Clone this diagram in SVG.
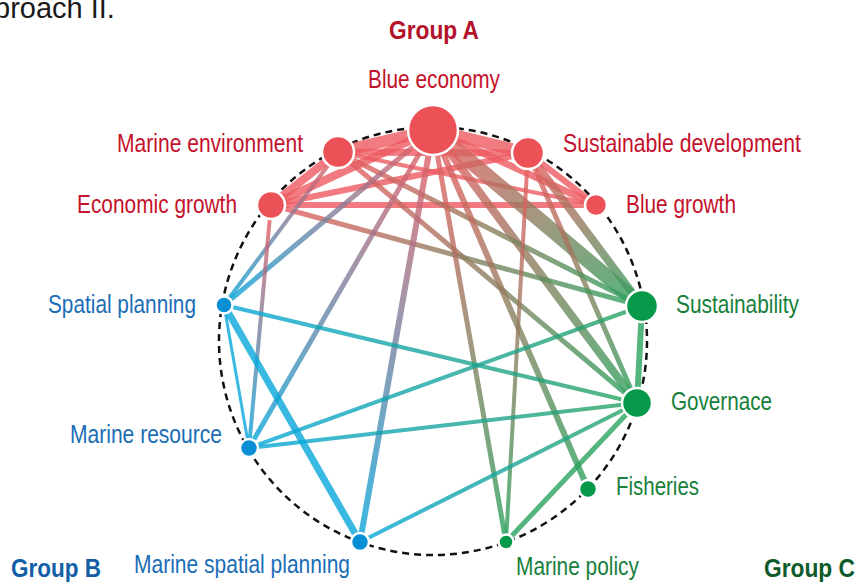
<svg xmlns="http://www.w3.org/2000/svg" width="857" height="582" viewBox="0 0 857 582">
<style>
.lbl{font-family:"Liberation Sans",Arial,sans-serif;font-size:25px}
.grp{font-family:"Liberation Sans",Arial,sans-serif;font-size:26.5px;font-weight:bold}
.ra{fill:#c4122c}.bl{fill:#1a6db6}.gr{fill:#17803b}
.edges line{stroke-opacity:0.8;stroke-linecap:butt}
.red{stroke:#ee5a60}
.node circle{stroke:#fff;stroke-width:2.5}
.nr{fill:#ec5157}.nb{fill:#0a8fd4}.ng{fill:#07994a}
</style>
<defs>
<linearGradient id="g1" gradientUnits="userSpaceOnUse" x1="433" y1="130" x2="642" y2="306"><stop offset="0" stop-color="#ee5a60"/><stop offset="1" stop-color="#2aa25e"/></linearGradient>
<linearGradient id="g2" gradientUnits="userSpaceOnUse" x1="528" y1="153" x2="642" y2="306"><stop offset="0" stop-color="#ee5a60"/><stop offset="1" stop-color="#2aa25e"/></linearGradient>
<linearGradient id="g3" gradientUnits="userSpaceOnUse" x1="433" y1="130" x2="637" y2="403"><stop offset="0" stop-color="#ee5a60"/><stop offset="1" stop-color="#2aa25e"/></linearGradient>
<linearGradient id="g4" gradientUnits="userSpaceOnUse" x1="528" y1="153" x2="637" y2="403"><stop offset="0" stop-color="#ee5a60"/><stop offset="1" stop-color="#2aa25e"/></linearGradient>
<linearGradient id="g5" gradientUnits="userSpaceOnUse" x1="338" y1="152" x2="637" y2="403"><stop offset="0" stop-color="#ee5a60"/><stop offset="1" stop-color="#2aa25e"/></linearGradient>
<linearGradient id="g6" gradientUnits="userSpaceOnUse" x1="338" y1="152" x2="642" y2="306"><stop offset="0" stop-color="#ee5a60"/><stop offset="1" stop-color="#2aa25e"/></linearGradient>
<linearGradient id="g7" gradientUnits="userSpaceOnUse" x1="271" y1="205" x2="642" y2="306"><stop offset="0" stop-color="#ee5a60"/><stop offset="1" stop-color="#2aa25e"/></linearGradient>
<linearGradient id="g8" gradientUnits="userSpaceOnUse" x1="433" y1="130" x2="588" y2="489"><stop offset="0" stop-color="#ee5a60"/><stop offset="1" stop-color="#2aa25e"/></linearGradient>
<linearGradient id="g9" gradientUnits="userSpaceOnUse" x1="433" y1="130" x2="506" y2="542"><stop offset="0" stop-color="#ee5a60"/><stop offset="1" stop-color="#2aa25e"/></linearGradient>
<linearGradient id="g10" gradientUnits="userSpaceOnUse" x1="528" y1="153" x2="506" y2="542"><stop offset="0" stop-color="#ee5a60"/><stop offset="1" stop-color="#2aa25e"/></linearGradient>
<linearGradient id="g11" gradientUnits="userSpaceOnUse" x1="433" y1="130" x2="360" y2="542"><stop offset="0" stop-color="#ee5a60"/><stop offset="1" stop-color="#07a7db"/></linearGradient>
<linearGradient id="g12" gradientUnits="userSpaceOnUse" x1="433" y1="130" x2="249" y2="448"><stop offset="0" stop-color="#ee5a60"/><stop offset="1" stop-color="#07a7db"/></linearGradient>
<linearGradient id="g13" gradientUnits="userSpaceOnUse" x1="433" y1="130" x2="224" y2="305"><stop offset="0" stop-color="#ee5a60"/><stop offset="1" stop-color="#07a7db"/></linearGradient>
<linearGradient id="g14" gradientUnits="userSpaceOnUse" x1="338" y1="152" x2="224" y2="305"><stop offset="0" stop-color="#ee5a60"/><stop offset="1" stop-color="#07a7db"/></linearGradient>
<linearGradient id="g15" gradientUnits="userSpaceOnUse" x1="271" y1="205" x2="249" y2="448"><stop offset="0" stop-color="#ee5a60"/><stop offset="1" stop-color="#07a7db"/></linearGradient>
<linearGradient id="g16" gradientUnits="userSpaceOnUse" x1="224" y1="305" x2="637" y2="403"><stop offset="0" stop-color="#07a7db"/><stop offset="1" stop-color="#2aa25e"/></linearGradient>
<linearGradient id="g17" gradientUnits="userSpaceOnUse" x1="249" y1="448" x2="642" y2="306"><stop offset="0" stop-color="#07a7db"/><stop offset="1" stop-color="#2aa25e"/></linearGradient>
<linearGradient id="g18" gradientUnits="userSpaceOnUse" x1="249" y1="448" x2="637" y2="403"><stop offset="0" stop-color="#07a7db"/><stop offset="1" stop-color="#2aa25e"/></linearGradient>
<linearGradient id="g19" gradientUnits="userSpaceOnUse" x1="360" y1="542" x2="637" y2="403"><stop offset="0" stop-color="#07a7db"/><stop offset="1" stop-color="#2aa25e"/></linearGradient>
</defs>
<rect width="857" height="582" fill="#fff"/>
<text x="-6" y="17.5" font-family="Liberation Sans,Arial,sans-serif" font-size="29" fill="#1a1a1a">proach II.</text>
<circle cx="433" cy="341" r="214" fill="none" stroke="#111" stroke-width="2.5" stroke-dasharray="7 5"/>
<g id="connectors" class="edges">
<line class="red" x1="433" y1="130" x2="338" y2="152" stroke-width="12"/>
<line class="red" x1="433" y1="130" x2="528" y2="153" stroke-width="12"/>
<line class="red" x1="338" y1="152" x2="528" y2="153" stroke-width="7"/>
<line class="red" x1="433" y1="130" x2="271" y2="205" stroke-width="8"/>
<line class="red" x1="433" y1="130" x2="596" y2="205" stroke-width="7"/>
<line class="red" x1="338" y1="152" x2="271" y2="205" stroke-width="8"/>
<line class="red" x1="271" y1="205" x2="528" y2="153" stroke-width="6"/>
<line class="red" x1="271" y1="205" x2="596" y2="205" stroke-width="6"/>
<line class="red" x1="528" y1="153" x2="596" y2="205" stroke-width="6"/>
<line class="red" x1="338" y1="152" x2="596" y2="205" stroke-width="4"/>
<line x1="433" y1="130" x2="642" y2="306" stroke="url(#g1)" stroke-width="15"/>
<line x1="528" y1="153" x2="642" y2="306" stroke="url(#g2)" stroke-width="8"/>
<line x1="433" y1="130" x2="637" y2="403" stroke="url(#g3)" stroke-width="8"/>
<line x1="528" y1="153" x2="637" y2="403" stroke="url(#g4)" stroke-width="5"/>
<line x1="338" y1="152" x2="637" y2="403" stroke="url(#g5)" stroke-width="5"/>
<line x1="338" y1="152" x2="642" y2="306" stroke="url(#g6)" stroke-width="5"/>
<line x1="271" y1="205" x2="642" y2="306" stroke="url(#g7)" stroke-width="5"/>
<line x1="433" y1="130" x2="588" y2="489" stroke="url(#g8)" stroke-width="6"/>
<line x1="433" y1="130" x2="506" y2="542" stroke="url(#g9)" stroke-width="5"/>
<line x1="528" y1="153" x2="506" y2="542" stroke="url(#g10)" stroke-width="4"/>
<line x1="433" y1="130" x2="360" y2="542" stroke="url(#g11)" stroke-width="6"/>
<line x1="433" y1="130" x2="249" y2="448" stroke="url(#g12)" stroke-width="5"/>
<line x1="433" y1="130" x2="224" y2="305" stroke="url(#g13)" stroke-width="5"/>
<line x1="338" y1="152" x2="224" y2="305" stroke="url(#g14)" stroke-width="4"/>
<line x1="271" y1="205" x2="249" y2="448" stroke="url(#g15)" stroke-width="4"/>
<line x1="224" y1="305" x2="637" y2="403" stroke="url(#g16)" stroke-width="4"/>
<line x1="249" y1="448" x2="642" y2="306" stroke="url(#g17)" stroke-width="4"/>
<line x1="249" y1="448" x2="637" y2="403" stroke="url(#g18)" stroke-width="4"/>
<line x1="360" y1="542" x2="637" y2="403" stroke="url(#g19)" stroke-width="4"/>
<line x1="642" y1="306" x2="637" y2="403" stroke="#2aa25e" stroke-width="6"/>
<line x1="506" y1="542" x2="637" y2="403" stroke="#2aa25e" stroke-width="5"/>
<line x1="224" y1="305" x2="360" y2="542" stroke="#07a7db" stroke-width="7"/>
<line x1="224" y1="305" x2="249" y2="448" stroke="#07a7db" stroke-width="3"/>
</g>
<g id="node-blue-economy" class="node"><circle class="nr" cx="433" cy="130" r="25"/><text class="lbl ra" x="368" y="88" textLength="132" lengthAdjust="spacingAndGlyphs">Blue economy</text></g>
<g id="node-marine-environment" class="node"><circle class="nr" cx="338" cy="152" r="16"/><text class="lbl ra" x="117" y="152" textLength="186" lengthAdjust="spacingAndGlyphs">Marine environment</text></g>
<g id="node-sustainable-development" class="node"><circle class="nr" cx="528" cy="153" r="16"/><text class="lbl ra" x="563" y="152" textLength="238" lengthAdjust="spacingAndGlyphs">Sustainable development</text></g>
<g id="node-economic-growth" class="node"><circle class="nr" cx="271" cy="205" r="14"/><text class="lbl ra" x="77" y="213" textLength="160" lengthAdjust="spacingAndGlyphs">Economic growth</text></g>
<g id="node-blue-growth" class="node"><circle class="nr" cx="596" cy="205" r="11"/><text class="lbl ra" x="626" y="213" textLength="110" lengthAdjust="spacingAndGlyphs">Blue growth</text></g>
<g id="node-sustainability" class="node"><circle class="ng" cx="642" cy="306" r="16"/><text class="lbl gr" x="676" y="313" textLength="123" lengthAdjust="spacingAndGlyphs">Sustainability</text></g>
<g id="node-governace" class="node"><circle class="ng" cx="637" cy="403" r="15"/><text class="lbl gr" x="671" y="410" textLength="101" lengthAdjust="spacingAndGlyphs">Governace</text></g>
<g id="node-fisheries" class="node"><circle class="ng" cx="588" cy="489" r="9"/><text class="lbl gr" x="616" y="495" textLength="83" lengthAdjust="spacingAndGlyphs">Fisheries</text></g>
<g id="node-marine-policy" class="node"><circle class="ng" cx="506" cy="542" r="7.5"/><text class="lbl gr" x="516" y="575" textLength="123" lengthAdjust="spacingAndGlyphs">Marine policy</text></g>
<g id="node-marine-spatial-planning" class="node"><circle class="nb" cx="360" cy="542" r="9"/><text class="lbl bl" x="134" y="573" textLength="216" lengthAdjust="spacingAndGlyphs">Marine spatial planning</text></g>
<g id="node-marine-resource" class="node"><circle class="nb" cx="249" cy="448" r="9"/><text class="lbl bl" x="70" y="443" textLength="152" lengthAdjust="spacingAndGlyphs">Marine resource</text></g>
<g id="node-spatial-planning" class="node"><circle class="nb" cx="224" cy="305" r="8.5"/><text class="lbl bl" x="48" y="313" textLength="148" lengthAdjust="spacingAndGlyphs">Spatial planning</text></g>
<g id="groups">
<text class="grp" x="389" y="38.5" fill="#b3122a" textLength="90" lengthAdjust="spacingAndGlyphs">Group A</text>
<text class="grp" x="11" y="577" fill="#125fa8" textLength="90" lengthAdjust="spacingAndGlyphs">Group B</text>
<text class="grp" x="764" y="577" fill="#0d5a2c" textLength="91" lengthAdjust="spacingAndGlyphs">Group C</text>
</g>
</svg>
